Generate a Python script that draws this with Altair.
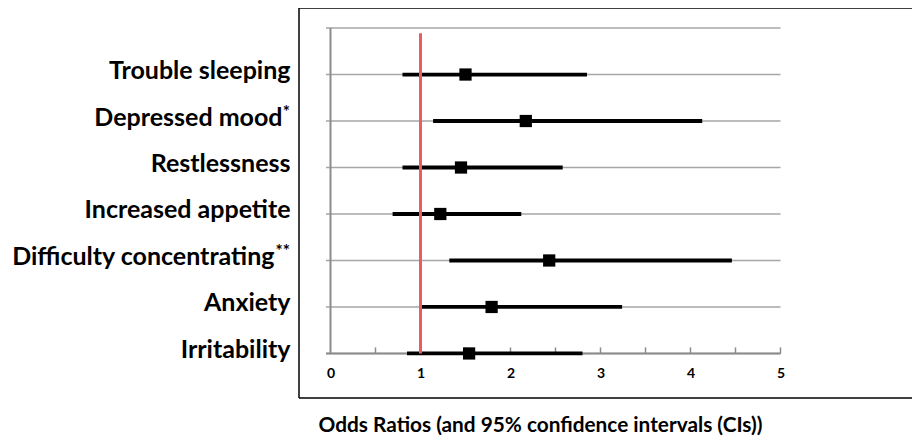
import altair as alt
import pandas as pd

# ---- data ----
symptoms = ["Trouble sleeping", "Depressed mood", "Restlessness", "Increased appetite",
            "Difficulty concentrating", "Anxiety", "Irritability"]
significance = ["", "*", "", "", "**", "", ""]
odds_ratio = [1.50, 2.17, 1.45, 1.22, 2.43, 1.79, 1.54]
ci_low = [0.80, 1.14, 0.80, 0.69, 1.32, 0.99, 0.85]
ci_high = [2.85, 4.13, 2.58, 2.12, 4.46, 3.24, 2.80]
row_pos = [6, 5, 4, 3, 2, 1, 0]
grid_rows = [0, 1, 2, 3, 4, 5, 6, 7]
x_labels = [0, 1, 2, 3, 4, 5]
x_minor_ticks = [0.5, 1, 1.5, 2, 2.5, 3, 3.5, 4, 4.5, 5]
reference_or = 1

FONT = "Lato"
W, H = 613, 390
X_MIN = -0.35

df = pd.DataFrame({"symptom": symptoms, "sig": significance, "or": odds_ratio,
                   "lo": ci_low, "hi": ci_high, "pos": row_pos})
grid_df = pd.DataFrame({"y": grid_rows, "x0": -0.05, "x1": 5})
tick_df = pd.DataFrame({"x": x_minor_ticks, "y0": 0, "y1": 0.13})
ref_df = pd.DataFrame({"x": [reference_or], "y0": [0], "y1": [6.89]})
yax_df = pd.DataFrame({"x": [0], "y0": [0], "y1": [7]})

lab_map = {p: s for p, s in zip(row_pos, symptoms)}
label_list = "[" + ",".join("'" + lab_map[i] + "'" for i in range(7)) + ",'']"
label_expr = label_list + "[datum.value]"

# extra label padding where a significance marker follows the label
pad_conditions = []
for p, s in zip(row_pos, significance):
    if s == "*":
        pad_conditions.append({"test": f"datum.value == {p}", "value": 17})
    elif s == "**":
        pad_conditions.append({"test": f"datum.value == {p}", "value": 25})

xscale = alt.Scale(domain=[X_MIN, X_MIN + W / 90.0], nice=False, zero=False)
yscale = alt.Scale(domain=[-0.958, 7.431], nice=False, zero=False)

x_axis = alt.Axis(values=x_labels, labelExpr="format(datum.value, 'd')", ticks=False,
                  domain=False, grid=False, offset=-45, labelPadding=13,
                  labelFont=FONT, labelFontSize=14, labelFontWeight="bold",
                  labelColor="black", labelFlush=False,
                  title="Odds Ratios (and 95% confidence intervals (CIs))",
                  titleFont=FONT, titleFontSize=20.8, titleFontWeight="bold",
                  titleColor="black", titleX=241, titleY=72, titleAlign="center",
                  titleBaseline="middle", titleAnchor="start")
y_axis = alt.Axis(values=list(range(7)), labelExpr=label_expr, ticks=False,
                  domain=False, grid=False,
                  labelPadding={"condition": pad_conditions, "value": 9},
                  labelFont=FONT, labelOffset=-4,
                  labelFontSize=25, labelFontWeight="bold", labelColor="black",
                  title=None, labelBound=False, labelLimit=0)

# frame (top, bottom, left) of the chart box
frame_top = alt.Chart(pd.DataFrame({"a": [0]})).mark_rule(color="black", strokeWidth=1.5).encode(
    x=alt.value(0), x2=alt.value(W + 5), y=alt.value(0))
frame_bottom = alt.Chart(pd.DataFrame({"a": [0]})).mark_rule(color="black", strokeWidth=1.5).encode(
    x=alt.value(0), x2=alt.value(W + 5), y=alt.value(H))
frame_left = alt.Chart(pd.DataFrame({"a": [0]})).mark_rule(color="black", strokeWidth=1.5).encode(
    x=alt.value(0), y=alt.value(0), y2=alt.value(H))

grid = alt.Chart(grid_df).mark_rule(color="#a6a6a6", strokeWidth=1.6).encode(
    x=alt.X("x0:Q", scale=xscale, axis=x_axis),
    x2="x1:Q",
    y=alt.Y("y:Q", scale=yscale, axis=y_axis),
)
xaxis_line = alt.Chart(grid_df[grid_df.y == 0]).mark_rule(color="#8c8c8c", strokeWidth=2).encode(
    x=alt.X("x0:Q", scale=xscale), x2="x1:Q", y=alt.Y("y:Q", scale=yscale))
yaxis_line = alt.Chart(yax_df).mark_rule(color="#8c8c8c", strokeWidth=2).encode(
    x=alt.X("x:Q", scale=xscale), y=alt.Y("y0:Q", scale=yscale), y2="y1:Q")
ticks = alt.Chart(tick_df).mark_rule(color="#8c8c8c", strokeWidth=1.5).encode(
    x=alt.X("x:Q", scale=xscale), y=alt.Y("y0:Q", scale=yscale), y2="y1:Q")

ci = alt.Chart(df).mark_rule(color="black", strokeWidth=3.8).encode(
    x=alt.X("lo:Q", scale=xscale), x2="hi:Q", y=alt.Y("pos:Q", scale=yscale))
ref = alt.Chart(ref_df).mark_rule(color="#ec5c5c", strokeWidth=3).encode(
    x=alt.X("x:Q", scale=xscale), y=alt.Y("y0:Q", scale=yscale), y2="y1:Q")
pts = alt.Chart(df).mark_square(color="black", size=150, opacity=1).encode(
    x=alt.X("or:Q", scale=xscale), y=alt.Y("pos:Q", scale=yscale))

stars = alt.Chart(df[df.sig != ""]).mark_text(
    font=FONT, fontSize=17, fontWeight="bold", color="black",
    align="right", baseline="middle", dx=-9, dy=-8).encode(
    x=alt.value(0), y=alt.Y("pos:Q", scale=yscale), text="sig:N")

chart = alt.layer(grid, xaxis_line, yaxis_line, ticks, ci, ref, pts, stars,
                  frame_top, frame_bottom, frame_left).properties(
    width=W, height=H,
    autosize=alt.AutoSizeParams(type="none"),
    padding={"left": 291, "top": 0, "right": 0, "bottom": 40},
).configure_view(stroke=None)

chart.save("out.html", embed_options={"renderer": "svg", "actions": False})
